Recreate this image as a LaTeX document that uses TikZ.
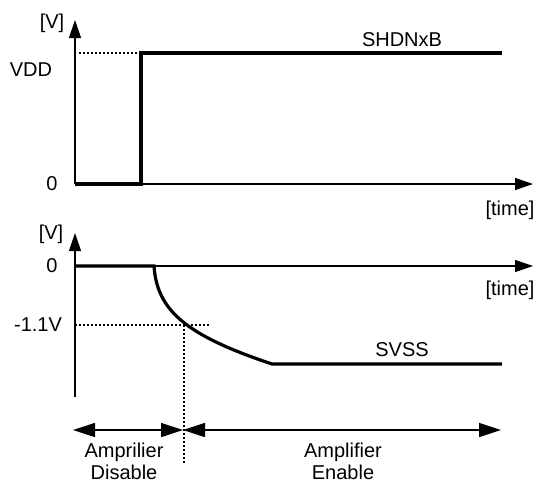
\documentclass[tikz,border=0pt]{standalone}
\usepackage{fontspec}
\setmainfont{Liberation Sans}
\usetikzlibrary{arrows.meta,positioning}

\begin{document}
\begin{tikzpicture}[x=0.5pt, y=-0.5pt, >={Triangle[length=9pt,width=6pt]},
  every node/.style={font=\fontsize{10}{11}\selectfont, inner sep=0pt, align=center},
  axis/.style={line width=0.6pt},
  signal/.style={line width=1.6pt},
  guide/.style={line width=1.3pt, dash pattern=on 1pt off 1pt},
  span/.style={line width=0.8pt, {Triangle[length=11pt,width=7pt]}-{Triangle[length=11pt,width=7pt]}}]
  \useasboundingbox (0,0) rectangle (534,484);

  % Upper chart: SHDNxB
  \coordinate (o1) at (75,184);
  \coordinate (v1) at (75,20);
  \coordinate (t1) at (533,184);
  \coordinate (rise) at (141,184);
  \coordinate (high) at (141,53);
  \coordinate (hend) at (502,53);
  \draw[axis,->] (o1) -- (v1);
  \draw[axis,->] (o1) -- (t1);
  \draw[guide] (79,53) -- (high);
  \draw[signal] (o1) -- (rise) -- (high) -- (hend);
  \node (vunit1) at (52,23) {[V]};
  \node (vdd) at (31,70) {VDD};
  \node (zero1) at (52,184) {0};
  \node (shdn) at (402,40) {SHDNxB};
  \node (time1) at (510,210) {[time]};

  % Lower chart: SVSS
  \coordinate (o2) at (75,266);
  \coordinate (v2) at (75,233);
  \coordinate (b2) at (75,397);
  \coordinate (t2) at (533,266);
  \coordinate (fall) at (154,266);
  \coordinate (low) at (272,364);
  \coordinate (lend) at (502,364);
  \coordinate (cross) at (184,325);
  \draw[axis,->] (b2) -- (v2);
  \draw[axis,->] (o2) -- (t2);
  \draw[signal] (o2) -- (fall) .. controls (157,310) and (185,335) .. (low) -- (lend);
  \draw[guide] (75,325) -- (209,325);
  \draw[guide] (cross) -- (184,465);
  \node (vunit2) at (51,234) {[V]};
  \node (zero2) at (52,266) {0};
  \node (level) at (38,325) {-1.1V};
  \node (svss) at (402,350) {SVSS};
  \node (time2) at (510,290) {[time]};

  % Disable / enable spans
  \coordinate (sl) at (73,430);
  \coordinate (sm) at (183,430);
  \coordinate (sr) at (501,430);
  \draw[span] (sl) -- (sm);
  \draw[span] (sm) -- (sr);
  \node (dis) at (124,461) {Amprilier\\Disable};
  \node (en) at (343,461) {Amplifier\\Enable};
\end{tikzpicture}
\end{document}
